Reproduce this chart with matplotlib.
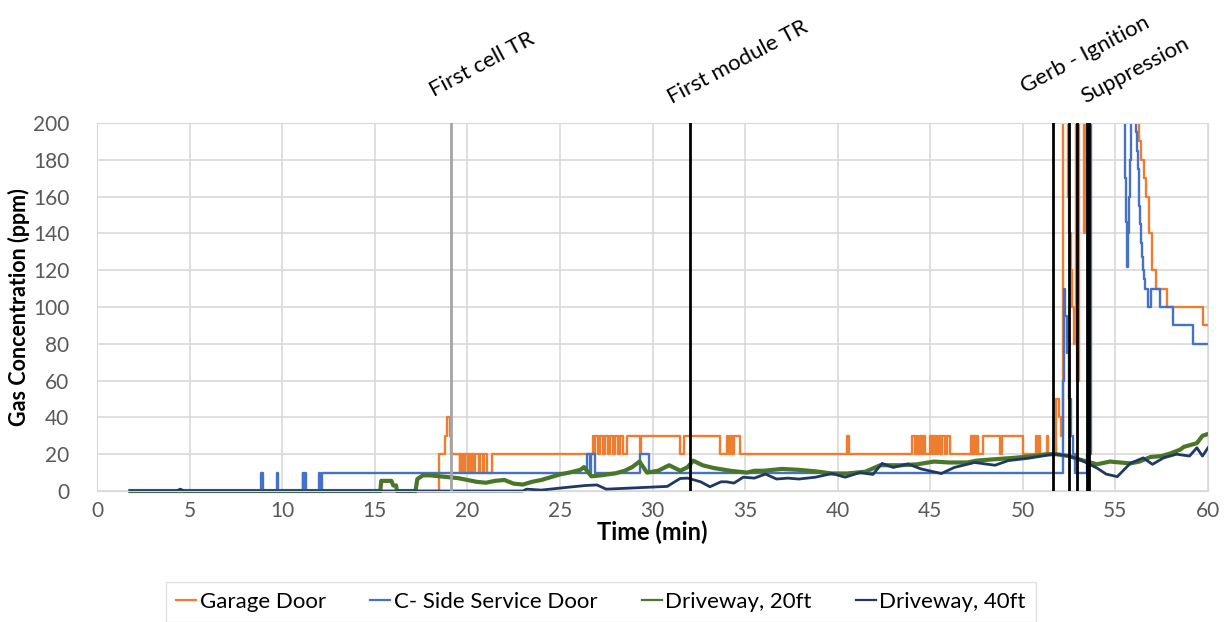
import matplotlib
matplotlib.use("Agg")
import matplotlib.pyplot as plt
from matplotlib.patches import Rectangle
from matplotlib.transforms import blended_transform_factory

plt.rcParams['font.family'] = ['Lato', 'DejaVu Sans']

# Garage Door (step series: time in min, ppm)
garage_t = [1.8, 18.45, 18.8, 18.9, 19.05, 19.12,
            19.58, 19.63, 19.73, 19.78, 19.85, 19.9, 20.03, 20.08, 20.21, 20.26,
            20.35, 20.4, 20.62, 20.67, 20.84, 20.89, 21.04, 21.35,
            26.8, 26.85, 26.9, 27.07, 27.16, 27.34, 27.43, 27.61, 27.7, 27.88, 27.97,
            28.15, 28.24, 28.42, 28.6, 29.32, 29.4, 31.48, 31.7, 33.64, 34.0, 34.1,
            34.2, 34.3, 34.38, 34.72, 40.5, 40.6,
            44.0, 44.15, 44.27, 44.35, 44.45, 44.53, 44.62, 44.7, 44.98, 45.08, 45.12,
            45.22, 45.27, 45.34, 45.43, 45.52, 45.56, 45.6, 45.66, 45.79, 45.88, 46.05,
            47.2, 47.3, 47.36, 47.45, 47.52, 47.58, 47.84, 48.76, 48.9, 50.0, 50.7,
            50.78, 50.85, 50.95, 51.3, 51.36, 51.8, 51.95, 52.05, 52.18, 52.45, 52.52,
            52.6, 52.68, 52.76, 52.85, 52.92, 53.02, 53.3, 53.36, 56.1, 56.2, 56.3,
            56.4, 56.55, 56.65, 56.8, 56.95, 57.0, 57.2, 57.76, 59.74, 60.0]
garage_v = [0, 20, 30, 40, 30, 20,
            10, 20, 10, 20, 10, 20, 10, 20, 10, 20,
            10, 20, 10, 20, 10, 20, 10, 20,
            30, 20, 30, 20, 30, 20, 30, 20, 30, 20, 30,
            20, 30, 20, 30, 20, 30, 20, 30, 20, 30, 20,
            30, 20, 30, 20, 30, 20,
            30, 20, 30, 20, 30, 20, 30, 20, 30, 20, 30,
            20, 30, 20, 30, 20, 30, 20, 30, 20, 30, 20,
            30, 20, 30, 20, 30, 20, 30, 20, 30, 20, 30,
            20, 30, 20, 30, 20, 50, 40, 30, 260, 160, 140,
            120, 100, 80, 260, 60, 260, 140, 260, 220, 200, 190,
            180, 170, 160, 140, 130, 120, 110, 100, 90, 90]

# C- Side Service Door
service_t = [1.8, 8.85, 8.97, 9.7, 9.8, 11.1, 11.15, 11.22, 11.3, 12.0, 12.07, 12.15,
             26.44, 26.62, 26.7, 26.9, 29.32, 29.8, 52.17, 52.22, 52.3, 52.4, 52.5,
             52.6, 52.7, 52.8, 53.44, 53.68, 55.5, 55.53, 55.56, 55.59, 55.62, 55.65,
             55.7, 55.75, 55.8, 55.85, 56.1, 56.15, 56.2, 56.25, 56.3, 56.35, 56.4,
             56.45, 56.5, 56.55, 56.6, 56.77, 56.9, 57.4, 58.1, 59.2, 60.0]
service_v = [0, 10, 0, 10, 0, 10, 0, 10, 0, 10, 0, 10,
             20, 10, 20, 10, 20, 10, 60, 110, 95, 75, 50,
             30, 20, 10, 20, 260, 182, 170, 158, 146, 134, 122,
             140, 160, 180, 260, 195, 185, 175, 165, 155, 145, 135,
             127, 120, 115, 110, 100, 110, 100, 90, 80, 80]

# Driveway, 20ft
drive20_t = [1.8, 15.3, 15.35, 15.9, 16.0, 16.15, 16.2, 17.2, 17.3, 17.6, 18.0, 18.5, 19.0,
             19.5, 20.0, 20.5, 21.0, 21.5, 22.0, 22.5, 23.0, 23.5, 24.0, 24.5, 25.0,
             25.5, 26.1, 26.3, 26.7, 27.2, 28.0, 28.5, 28.9, 29.3, 29.7, 30.3, 30.9,
             31.5, 31.9, 32.2, 32.7, 33.3, 34.2, 35.1, 35.5, 36.0, 37.0, 37.9, 38.8,
             39.7, 40.5, 41.5, 42.3, 43.0, 43.4, 44.3, 45.2, 46.0, 47.0, 47.5, 48.8,
             49.5, 50.6, 51.3, 51.8, 52.5, 53.1, 54.0, 54.7, 55.8, 56.3, 56.9, 57.5,
             58.0, 58.5, 58.7, 59.4, 59.7, 60.0]
drive20_v = [0, 0, 5.5, 5.5, 3, 3, 0, 0, 6.5, 8.5, 8.5, 8, 7.5,
             7, 6, 5, 4.5, 5.5, 6, 4, 3.5, 5, 6, 7.5, 9,
             10, 11.5, 13, 8, 8.5, 9.6, 11, 13, 16, 10, 11, 14,
             11, 13, 16.5, 14, 12.5, 11, 10, 11, 11, 12, 11.5, 10.7,
             9.5, 9.5, 10.5, 14, 14, 14, 14.5, 16, 15.5, 15.5, 16.5, 17.5,
             18, 19, 20, 20, 19, 17, 14.5, 16, 15, 16, 18.5, 19,
             20.5, 22.5, 24, 26, 30, 31]

# Driveway, 40ft
drive40_t = [1.8, 4.3, 4.5, 4.7, 23.0, 23.2, 24.0, 25.4, 26.4, 27.0, 27.5, 28.6, 29.7,
             30.8, 31.2, 31.5, 31.9, 32.6, 33.1, 33.7, 34.0, 34.4, 34.9, 35.5, 36.1,
             36.7, 37.3, 37.9, 38.8, 39.7, 40.4, 41.2, 41.9, 42.4, 43.0, 43.8, 44.5,
             45.6, 46.3, 47.4, 48.5, 49.2, 50.3, 51.4, 51.8, 52.5, 53.1, 54.0, 54.5,
             55.1, 55.8, 56.5, 57.0, 57.6, 58.3, 59.0, 59.4, 59.7, 60.0]
drive40_v = [0, 0, 1, 0, 0, 1, 0.5, 2, 3, 3.3, 1, 1.5, 2,
             2.5, 5, 6.8, 7, 5, 2.3, 5, 5, 4.3, 7.5, 7, 9.2,
             6.5, 7, 6.5, 7.5, 9.5, 7.5, 10, 9, 15, 12.8, 14.7, 12,
             9.5, 12.8, 15.5, 14, 16.5, 17.8, 19.6, 20, 19, 17, 12.5, 9.2,
             7.8, 15, 18, 14.5, 18, 20, 19, 23.5, 19, 23.5]

# event markers
event_t = [19.1, 32.0, 51.65, 52.5, 52.9, 53.45, 53.6]
event_c = ['#a5a5a5', 'black', 'black', 'black', 'black', 'black', 'black']
labels = ['First cell TR', 'First module TR', 'Gerb - Ignition', 'Suppression']
label_x = [20.8, 34.6, 53.35, 56.05]
label_y = [1.158, 1.166, 1.185, 1.144]

fig = plt.figure(figsize=(12.3, 6.22), dpi=100)
ax = fig.add_axes([97 / 1230, 1 - 491 / 622, (1208 - 97) / 1230, (491 - 123) / 622])

clip = Rectangle((0, -0.02), 1, 1.02, transform=ax.transAxes, facecolor='none', edgecolor='none')
ax.add_patch(clip)

l1, = ax.plot(garage_t, garage_v, drawstyle='steps-post', color='#ed7d31', lw=1.7, label='Garage Door')
l2, = ax.plot(service_t, service_v, drawstyle='steps-post', color='#4472c4', lw=1.7, label='C- Side Service Door')
l3, = ax.plot(drive20_t, drive20_v, color='#4a7629', lw=3.0, label='Driveway, 20ft')
l4, = ax.plot(drive40_t, drive40_v, color='#1f3864', lw=2.0, label='Driveway, 40ft')
for l in (l1, l2, l3, l4):
    l.set_clip_path(clip)

for t, c in zip(event_t, event_c):
    ax.axvline(t, color=c, lw=2.0, zorder=5)

trans = blended_transform_factory(ax.transData, ax.transAxes)
for s, x, y in zip(labels, label_x, label_y):
    ax.text(x, y, s, transform=trans, rotation=28, ha='center', va='center',
            fontsize=16, rotation_mode='anchor', clip_on=False)

ax.set_xlim(0, 60)
ax.set_ylim(0, 200)
ax.set_xticks(range(0, 61, 5))
ax.set_yticks(range(0, 201, 20))
ax.grid(True, color='#d9d9d9', lw=1.2)
ax.set_axisbelow(True)
for sp in ax.spines.values():
    sp.set_color('#d9d9d9')
ax.tick_params(axis='both', length=0, labelsize=15, colors='#595959')
ax.tick_params(axis='y', pad=20)
ax.tick_params(axis='x', pad=7)
ax.set_xlabel('Time (min)', fontsize=17, fontweight='bold', labelpad=0)
ax.set_ylabel('Gas Concentration (ppm)', fontsize=15.5, fontweight='bold', labelpad=2)

leg = fig.legend(handles=[l1, l2, l3, l4], loc='center', bbox_to_anchor=(601 / 1230, 1 - 602 / 622),
                 ncol=4, fontsize=16, frameon=True, fancybox=False, edgecolor='#d9d9d9',
                 handlelength=0.9, handletextpad=0.15, columnspacing=2.0, borderpad=0.45)
for h in leg.get_lines():
    h.set_linewidth(1.6)

fig.savefig('out.png', dpi=100)
